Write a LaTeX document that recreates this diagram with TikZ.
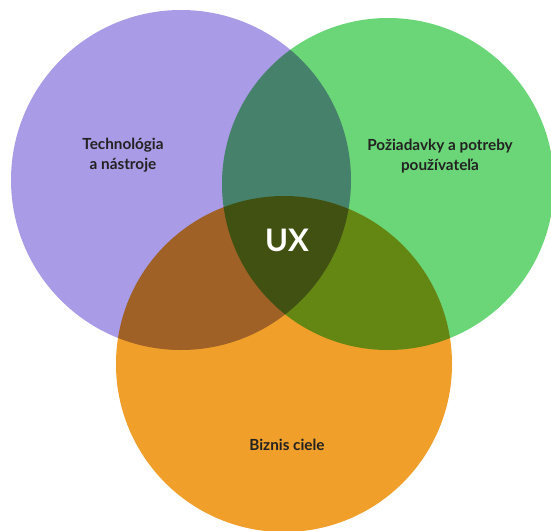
\documentclass[tikz,border=0pt]{standalone}
\usepackage{fontspec}
\setmainfont{Lato}
\definecolor{techfill}{HTML}{A99BE6}
\definecolor{userfill}{HTML}{6BD677}
\definecolor{bizfill}{HTML}{F0A02A}
\definecolor{labeltext}{HTML}{222222}
\begin{document}
\begin{tikzpicture}[x=1pt,y=-1pt,
  setfill/.style={blend mode=multiply},
  lbl/.style={text=labeltext,font=\bfseries\fontsize{15.3}{20}\selectfont,align=center}]
\useasboundingbox (0,0) rectangle (551,530);
\clip (0,0) rectangle (551,530);
\begin{scope}[transparency group]
  \fill[techfill,setfill] (181,180) circle[radius=170];
  \fill[userfill,setfill] (388,184) circle[radius=166];
  \fill[bizfill,setfill] (284,364) circle[radius=168];
\end{scope}
\node[lbl] (tech) at (123,155) {Technológia\\a nástroje};
\node[lbl] (user) at (440,156) {Požiadavky a potreby\\používateľa};
\node[text=white,font=\bfseries\fontsize{31}{36}\selectfont] (ux) at (287,240) {UX};
\node[lbl] (biz) at (287,445) {Biznis ciele};
\end{tikzpicture}
\end{document}
